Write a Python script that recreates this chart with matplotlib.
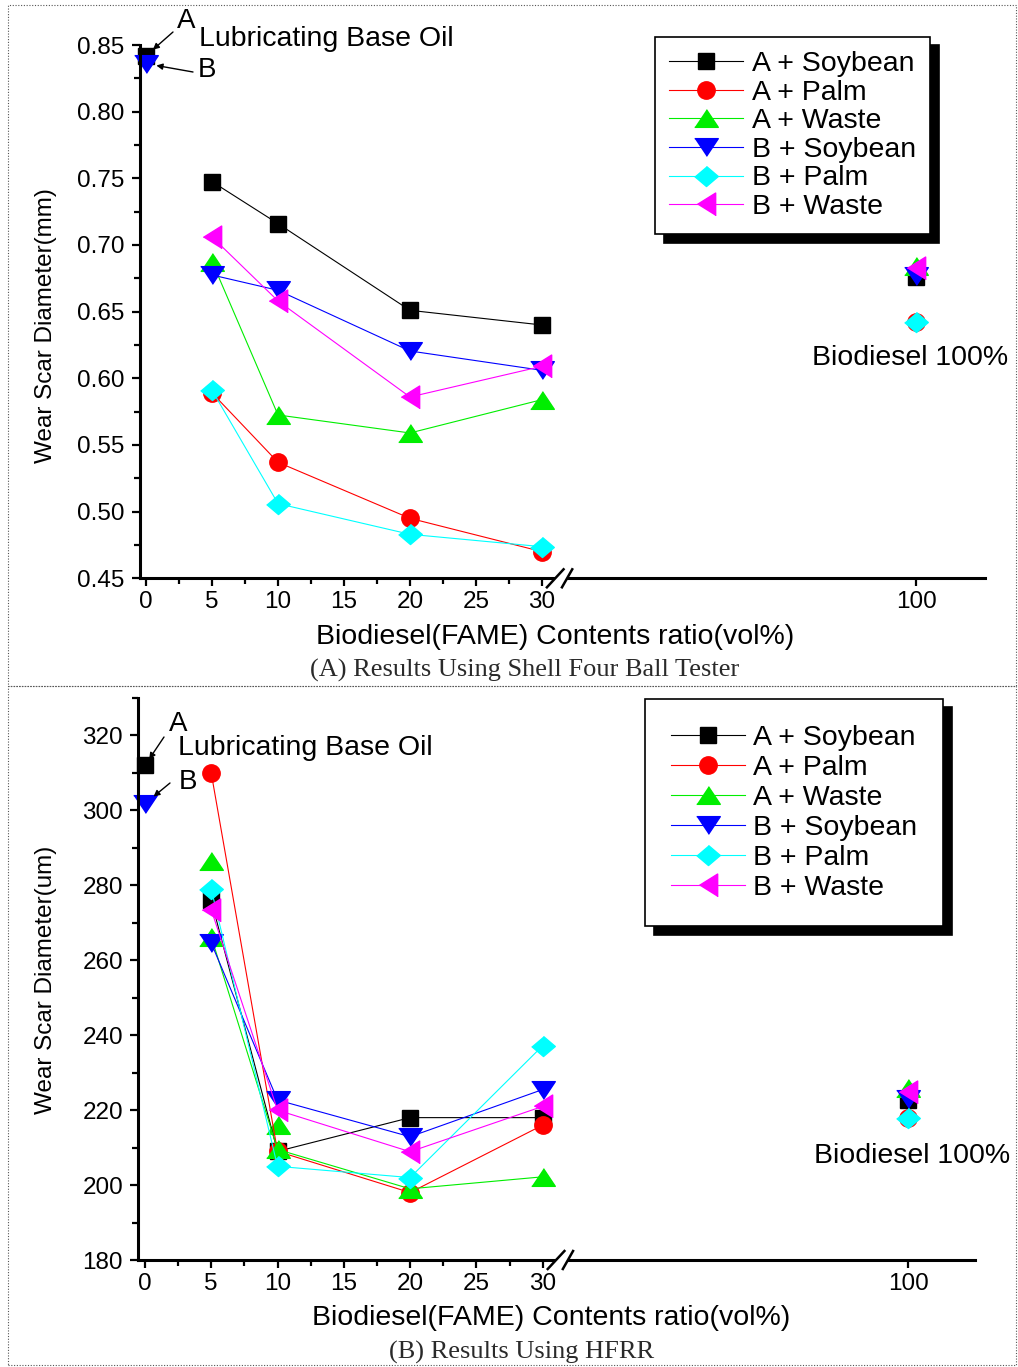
import matplotlib
matplotlib.use("Agg")
import matplotlib.pyplot as plt
import numpy as np
from matplotlib.patches import Rectangle, Polygon
from matplotlib.lines import Line2D
from matplotlib import transforms

plt.rcParams['font.family'] = ['Liberation Sans', 'DejaVu Sans']

W, H = 1018, 1367

# ---- data -------------------------------------------------------------
series_names = ["A + Soybean", "A + Palm", "A + Waste",
                "B + Soybean", "B + Palm", "B + Waste"]
mix_x = [5, 10, 20, 30]
base_x = 0
bio_x = 100

# (A) Shell four ball tester, wear scar diameter in mm
shell_base_oil = [0.842, 0.836]          # A, B
shell_a_soy = [0.7475, 0.716, 0.651, 0.640]
shell_a_palm = [0.589, 0.537, 0.495, 0.470]
shell_a_waste = [0.6875, 0.5725, 0.559, 0.584]
shell_b_soy = [0.6775, 0.666, 0.6205, 0.606]
shell_b_palm = [0.591, 0.506, 0.483, 0.4737]
shell_b_waste = [0.706, 0.658, 0.586, 0.609]
shell_bio100 = [0.676, 0.642, 0.684, 0.677, 0.642, 0.683]

# (B) HFRR, wear scar diameter in um
hfrr_base_oil = [312, 301.8]
hfrr_a_soy = [276, 209, 218, 218]
hfrr_a_palm = [310, 209, 198, 216]
hfrr_a_waste = [266.3, 209.5, 199, 202.2]
hfrr_a_waste_extra_x = [5, 10]
hfrr_a_waste_extra = [286.4, 216]
hfrr_b_soy = [264.6, 222.7, 212.9, 225.5]
hfrr_b_palm = [279, 205, 202, 237.2]
hfrr_b_waste = [273.5, 220, 208.9, 221]
hfrr_bio100 = [222.7, 218, 226, 223, 217.8, 224.9]

colors = ["black", "red", "#00ee00", "blue", "cyan", "magenta"]
# wide triangles / diamond like the original program draws them
tri_up = [(-1, -0.75), (1, -0.75), (0, 0.75)]
tri_down = [(-1, 0.75), (1, 0.75), (0, -0.75)]
tri_left = [(-0.8, 0), (0.8, 1), (0.8, -1)]
diamond = [(0, 0.85), (1, 0), (0, -0.85), (-1, 0)]
markers = ["s", "o", tri_up, tri_down, diamond, tri_left]
msizes = [11.5, 12.5, 17, 17, 17, 16.5]

BREAK = 32


def px(x, y):
    return x / W, 1 - y / H


def break_scale(k):
    def forward(x):
        x = np.asarray(x, dtype=float)
        return np.where(x <= BREAK, x, BREAK + (x - BREAK) * k)

    def inverse(y):
        y = np.asarray(y, dtype=float)
        return np.where(y <= BREAK, y, BREAK + (y - BREAK) / k)
    return forward, inverse


def draw_panel(rect, k, base, groups, bio, ylim, ymaj, ymin, yfmt,
               ylabel, ylab_xy, xlab_xy, legend_anchor, labelspacing,
               borderpad):
    ax = fig.add_axes(rect)
    ax.set_xscale('function', functions=break_scale(k))
    ax.set_xlim(-0.5, 113.4)
    ax.set_ylim(*ylim)

    handles = []
    for i, ys in enumerate(groups):
        h, = ax.plot(mix_x, ys, color=colors[i], lw=0.8, marker=markers[i],
                     ms=msizes[i], mec=colors[i], mfc=colors[i],
                     label=series_names[i], clip_on=False)
        handles.append(h)
        ax.plot([bio_x], [bio[i]], ls='none', marker=markers[i],
                ms=msizes[i], color=colors[i], clip_on=False)
    ax.plot([base_x], [base[0]], ls='none', marker=markers[0],
            ms=msizes[0], color=colors[0], clip_on=False)
    ax.plot([base_x], [base[1]], ls='none', marker=markers[3],
            ms=msizes[3], color=colors[3], clip_on=False)

    for s in ['top', 'right']:
        ax.spines[s].set_visible(False)
    for s in ['left', 'bottom']:
        ax.spines[s].set_linewidth(2.2)

    ax.set_xticks([0, 5, 10, 15, 20, 25, 30, 100])
    ax.set_xticks([2.5, 7.5, 12.5, 17.5, 22.5, 27.5], minor=True)
    ax.set_yticks(ymaj)
    ax.set_yticks(ymin, minor=True)
    ax.set_yticklabels([yfmt.format(v) for v in ymaj])
    ax.tick_params(which='major', direction='out', length=6, width=1.6,
                   labelsize=17.5)
    ax.tick_params(which='minor', direction='out', length=4, width=1.6)
    ax.tick_params(axis='x', pad=3)
    ax.tick_params(axis='y', pad=5)

    ax.set_ylabel(ylabel, fontsize=17.5)
    ax.yaxis.set_label_coords(*ylab_xy)
    ax.yaxis.label.set_va('center')
    ax.set_xlabel("Biodiesel(FAME) Contents ratio(vol%)", fontsize=20.5)
    ax.xaxis.set_label_coords(*xlab_xy)
    ax.xaxis.label.set_va('center')

    # axis break marks
    tr = transforms.blended_transform_factory(ax.transData, ax.transAxes)
    d = 9.0 / (rect[3] * H)
    s1 = [(30.38, -d), (31.64, d)]
    s2 = [(31.52, -d), (32.77, d)]
    ax.add_patch(Polygon([s1[0], s1[1], s2[1], s2[0]], closed=True,
                         fc='white', ec='none', transform=tr,
                         clip_on=False, zorder=5))
    for s in (s1, s2):
        ax.add_line(Line2D([s[0][0], s[1][0]], [s[0][1], s[1][1]],
                           color='black', lw=1.8, transform=tr,
                           clip_on=False, zorder=6))

    leg = ax.legend(handles=handles, loc='upper left',
                    bbox_to_anchor=legend_anchor,
                    bbox_transform=fig.transFigure, borderaxespad=0,
                    fontsize=20.5, handlelength=2.6, handletextpad=0.3,
                    labelspacing=labelspacing, borderpad=borderpad,
                    fancybox=False, framealpha=1, edgecolor='black',
                    shadow={'ox': 6.5, 'oy': -6, 'color': 'black',
                            'alpha': 1})
    leg.get_frame().set_linewidth(1.2)
    return ax


fig = plt.figure(figsize=(W / 100, H / 100), dpi=100)

# dotted frames around each panel
for (x0, y0, x1, y1) in [(8, 5, 1016, 686), (8, 686, 1016, 1365)]:
    fig.add_artist(Rectangle(px(x0, y1), (x1 - x0) / W, (y1 - y0) / H,
                             transform=fig.transFigure, fill=False,
                             ec='#555555', lw=0.8, ls=(0, (1, 1.5))))

# ---- panel A ----------------------------------------------------------
ax1 = draw_panel(
    [139.5 / W, 1 - 578.3 / H, 845.5 / W, 533.3 / H], 0.388,
    shell_base_oil,
    [shell_a_soy, shell_a_palm, shell_a_waste,
     shell_b_soy, shell_b_palm, shell_b_waste],
    shell_bio100, (0.45, 0.85),
    np.arange(0.45, 0.851, 0.05), np.arange(0.475, 0.85, 0.05), "{:.2f}",
    "Wear Scar Diameter(mm)", (-0.11, 0.473), (0.491, -0.111),
    px(655, 37), 0.09, 0.5)

fig.text(*px(186, 21), "A", fontsize=20, ha='center', va='center')
fig.text(*px(199, 39), "Lubricating Base Oil", fontsize=20.5,
         ha='left', va='center')
fig.text(*px(207, 70), "B", fontsize=20, ha='center', va='center')
arrow = dict(arrowstyle='-|>', color='black', lw=1.0, mutation_scale=9,
             shrinkA=0)
ax1.annotate("", xy=(base_x, shell_base_oil[0]), xycoords='data',
             xytext=px(173, 32), textcoords='figure fraction',
             arrowprops=dict(arrow, shrinkB=6.5))
ax1.annotate("", xy=(base_x, shell_base_oil[1]), xycoords='data',
             xytext=px(193, 72), textcoords='figure fraction',
             arrowprops=dict(arrow, shrinkB=7.5))
fig.text(*px(812, 358), "Biodiesel 100%", fontsize=20.5,
         ha='left', va='center')
fig.text(*px(525, 670), "(A) Results Using Shell Four Ball Tester",
         fontsize=19, family='Liberation Serif', ha='center', va='center',
         color='#2a2a2a')

# ---- panel B ----------------------------------------------------------
ax2 = draw_panel(
    [138.3 / W, 1 - 1260 / H, 836.7 / W, 562 / H], 0.376,
    hfrr_base_oil,
    [hfrr_a_soy, hfrr_a_palm, hfrr_a_waste,
     hfrr_b_soy, hfrr_b_palm, hfrr_b_waste],
    hfrr_bio100, (180, 330),
    np.arange(180, 321, 20), np.arange(190, 331, 20), "{:.0f}",
    "Wear Scar Diameter(um)", (-0.11, 0.498), (0.493, -0.103),
    px(645, 699), 0.14, 0.9)
ax2.plot(hfrr_a_waste_extra_x, hfrr_a_waste_extra, ls='none',
         marker=markers[2], ms=msizes[2], color=colors[2], zorder=1.9)

fig.text(*px(178, 724), "A", fontsize=20, ha='center', va='center')
fig.text(*px(178, 748), "Lubricating Base Oil", fontsize=20.5,
         ha='left', va='center')
fig.text(*px(188, 782), "B", fontsize=20, ha='center', va='center')
ax2.annotate("", xy=(base_x, hfrr_base_oil[0]), xycoords='data',
             xytext=px(164, 737), textcoords='figure fraction',
             arrowprops=dict(arrow, shrinkB=5.5))
ax2.annotate("", xy=(base_x, hfrr_base_oil[1]), xycoords='data',
             xytext=px(170, 783), textcoords='figure fraction',
             arrowprops=dict(arrow, shrinkB=8))
fig.text(*px(814, 1156), "Biodiesel 100%", fontsize=20.5,
         ha='left', va='center')
fig.text(*px(522, 1352), "(B) Results Using HFRR",
         fontsize=19, family='Liberation Serif', ha='center', va='center',
         color='#2a2a2a')

fig.savefig("out.png", dpi=100)
